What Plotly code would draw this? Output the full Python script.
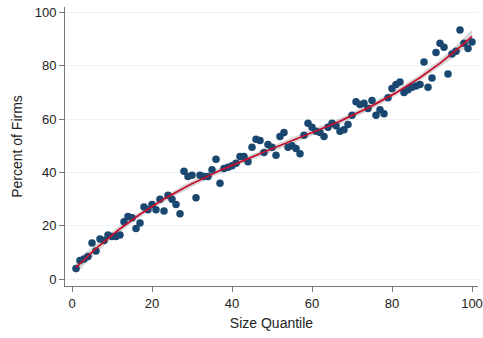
import numpy as np
import plotly.graph_objects as go

size_quantile = list(range(1, 101))
percent_firms = [
    4, 7, 7.5, 8.5, 13.5, 10.5, 15, 14.5, 16.5, 16,
    16, 16.5, 21.5, 23.5, 23, 19, 21, 27, 26, 28,
    26, 30, 25.5, 31.5, 30, 28, 24.5, 40.5, 38.5, 39,
    30.5, 39, 38.5, 38.5, 41, 45, 36, 41.5, 42, 42.5,
    43.5, 46, 46, 44, 49.5, 52.5, 52, 47.5, 50.5, 49.5,
    46.5, 53.5, 55, 49.5, 50, 49, 47, 54, 58.5, 57,
    55.5, 55, 53.5, 57, 58.5, 57.5, 55.5, 56, 58, 61.5,
    66.5, 65.5, 66, 64, 67, 61.5, 63.5, 62, 68, 71.5,
    73, 74, 70, 71, 72, 72.5, 73, 81.5, 72, 75.5,
    85, 88.5, 87, 77, 84.5, 85.5, 93.5, 88.5, 86.5, 89,
]
x_ticks = [0, 20, 40, 60, 80, 100]
y_ticks = [0, 20, 40, 60, 80, 100]

x = np.array(size_quantile, dtype=float)
y = np.array(percent_firms, dtype=float)

# cubic fit with 95% CI
deg = 3
X = np.vander(x, deg + 1)
beta, *_ = np.linalg.lstsq(X, y, rcond=None)
resid = y - X @ beta
s2 = resid @ resid / (len(x) - deg - 1)
cov = s2 * np.linalg.inv(X.T @ X)
xf = np.linspace(x.min(), x.max(), 200)
Xf = np.vander(xf, deg + 1)
yf = Xf @ beta
se = np.sqrt(np.einsum('ij,jk,ik->i', Xf, cov, Xf))
lo, hi = yf - 1.98 * se, yf + 1.98 * se

fig = go.Figure()
fig.add_trace(go.Scatter(x=np.concatenate([xf, xf[::-1]]), y=np.concatenate([hi, lo[::-1]]),
                         fill='toself', fillcolor='rgba(175,175,175,0.5)', line=dict(width=0),
                         mode='lines', hoverinfo='skip', showlegend=False))
fig.add_trace(go.Scatter(x=x, y=y, mode='markers',
                         marker=dict(color='#1a476f', size=7.5, line=dict(width=0)),
                         showlegend=False))
fig.add_trace(go.Scatter(x=xf, y=yf, mode='lines', line=dict(color='#c8102e', width=1.8),
                         showlegend=False))

fig.update_layout(
    width=483, height=338,
    margin=dict(l=65, r=5, t=7, b=52),
    paper_bgcolor='white', plot_bgcolor='white',
    font=dict(family='Liberation Sans, Arial, sans-serif', size=13, color='#222'),
    xaxis=dict(range=[-1.75, 101.5], tickvals=x_ticks, showgrid=False, zeroline=False,
               automargin=False,
               showline=True, linecolor='#777', linewidth=1, ticks='outside', ticklen=5,
               tickcolor='#777', title=dict(text='Size Quantile', standoff=8,
               font=dict(size=14))),
    yaxis=dict(range=[-2.6, 102.1], tickvals=y_ticks, showgrid=True, gridcolor='#eaf2f3',
               gridwidth=1, zeroline=False, showline=True, linecolor='#777', linewidth=1,
               automargin=False,
               ticks='outside', ticklen=5, tickcolor='#777',
               title=dict(text='Percent of Firms', standoff=8, font=dict(size=14))),
)
fig.write_html('out.html')
